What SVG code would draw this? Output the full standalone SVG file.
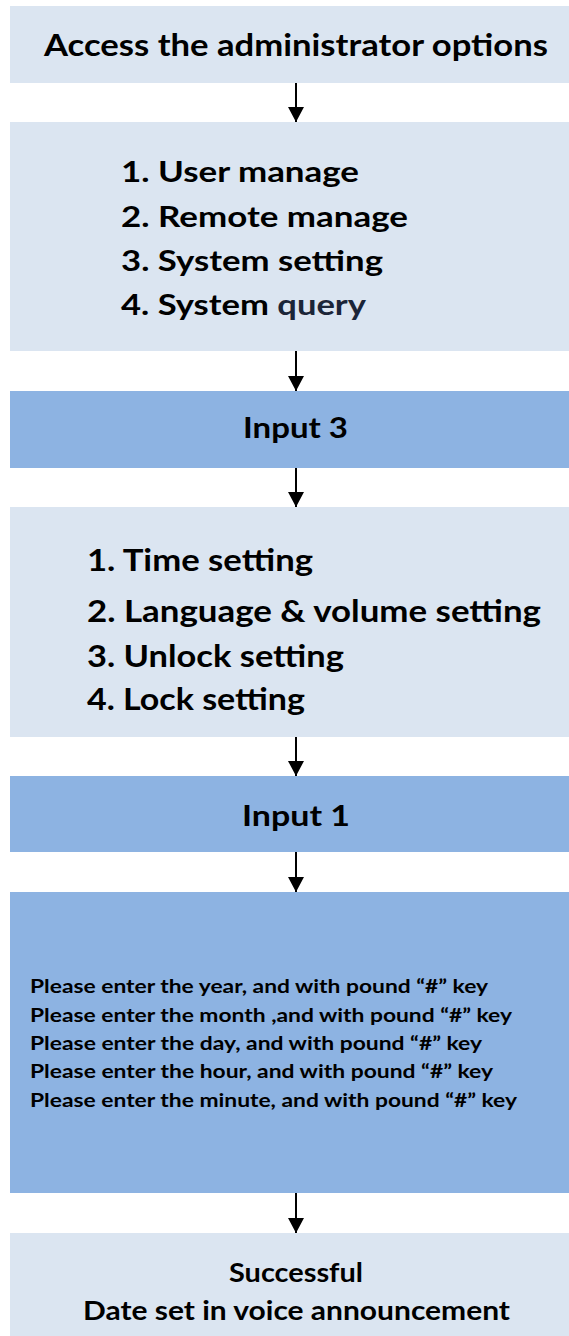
<svg xmlns="http://www.w3.org/2000/svg" width="569" height="1336" viewBox="0 0 569 1336">
<style>
.light{fill:#DBE5F1}
.dark{fill:#8DB3E2}
text{font-family:Lato,"Liberation Sans",sans-serif;font-weight:bold;fill:#000}
.t1{font-size:31px}
.t2{font-size:28.5px}
.t3{font-size:31px}
.ti{font-size:28px}
.ts{font-size:19.5px}
.tf{font-size:27.5px}
.conn line{stroke:#000;stroke-width:2}
</style>
<defs>
<marker id="ah" markerUnits="userSpaceOnUse" markerWidth="16" markerHeight="16" refX="15" refY="8" orient="auto">
<path d="M0,0 L15,8 L0,16 Z" fill="#000"/>
</marker>
</defs>
<rect width="569" height="1336" fill="#fff"/>
<g id="n1">
<rect class="light" x="10" y="6" width="559" height="77"/>
<text class="t1" x="44" y="56" textLength="504" lengthAdjust="spacingAndGlyphs">Access the administrator options</text>
</g>
<g id="n2">
<rect class="light" x="10" y="122" width="559" height="229"/>
<text class="t2" x="121" y="182" textLength="238" lengthAdjust="spacingAndGlyphs">1. User manage</text>
<text class="t2" x="121" y="227" textLength="287" lengthAdjust="spacingAndGlyphs">2. Remote manage</text>
<text class="t2" x="121" y="271" textLength="262" lengthAdjust="spacingAndGlyphs">3. System setting</text>
<text class="t2" x="121" y="315" textLength="245" lengthAdjust="spacingAndGlyphs">4. System <tspan fill="#1B2538">query</tspan></text>
</g>
<g id="n3">
<rect class="dark" x="10" y="391" width="559" height="77"/>
<text class="ti" x="243" y="438" textLength="105" lengthAdjust="spacingAndGlyphs">Input 3</text>
</g>
<g id="n4">
<rect class="light" x="10" y="507" width="559" height="230"/>
<text class="t3" x="87" y="571" textLength="226" lengthAdjust="spacingAndGlyphs">1. Time setting</text>
<text class="t3" x="87" y="622" textLength="454" lengthAdjust="spacingAndGlyphs">2. Language &amp; volume setting</text>
<text class="t3" x="87" y="667" textLength="257" lengthAdjust="spacingAndGlyphs">3. Unlock setting</text>
<text class="t3" x="87" y="710" textLength="218" lengthAdjust="spacingAndGlyphs">4. Lock setting</text>
</g>
<g id="n5">
<rect class="dark" x="10" y="776" width="559" height="76"/>
<text class="ti" x="242" y="826" textLength="108" lengthAdjust="spacingAndGlyphs">Input 1</text>
</g>
<g id="n6">
<rect class="dark" x="10" y="892" width="559" height="301"/>
<text class="ts" x="30" y="993" textLength="458" lengthAdjust="spacingAndGlyphs">Please enter the year, and with pound “#” key</text>
<text class="ts" x="30" y="1022" textLength="482" lengthAdjust="spacingAndGlyphs">Please enter the month ,and with pound “#” key</text>
<text class="ts" x="30" y="1050" textLength="452" lengthAdjust="spacingAndGlyphs">Please enter the day, and with pound “#” key</text>
<text class="ts" x="30" y="1078" textLength="463" lengthAdjust="spacingAndGlyphs">Please enter the hour, and with pound “#” key</text>
<text class="ts" x="30" y="1107" textLength="487" lengthAdjust="spacingAndGlyphs">Please enter the minute, and with pound “#” key</text>
</g>
<g id="n7">
<rect class="light" x="10" y="1233" width="559" height="103"/>
<text class="tf" x="229" y="1282" textLength="134" lengthAdjust="spacingAndGlyphs">Successful</text>
<text class="tf" x="83" y="1320" textLength="427" lengthAdjust="spacingAndGlyphs">Date set in voice announcement</text>
</g>
<g id="connectors" class="conn">
<line x1="296" y1="83" x2="296" y2="122" marker-end="url(#ah)"/>
<line x1="296" y1="351" x2="296" y2="391" marker-end="url(#ah)"/>
<line x1="296" y1="468" x2="296" y2="507" marker-end="url(#ah)"/>
<line x1="296" y1="737" x2="296" y2="776" marker-end="url(#ah)"/>
<line x1="296" y1="852" x2="296" y2="892" marker-end="url(#ah)"/>
<line x1="296" y1="1193" x2="296" y2="1233" marker-end="url(#ah)"/>
</g>
</svg>
